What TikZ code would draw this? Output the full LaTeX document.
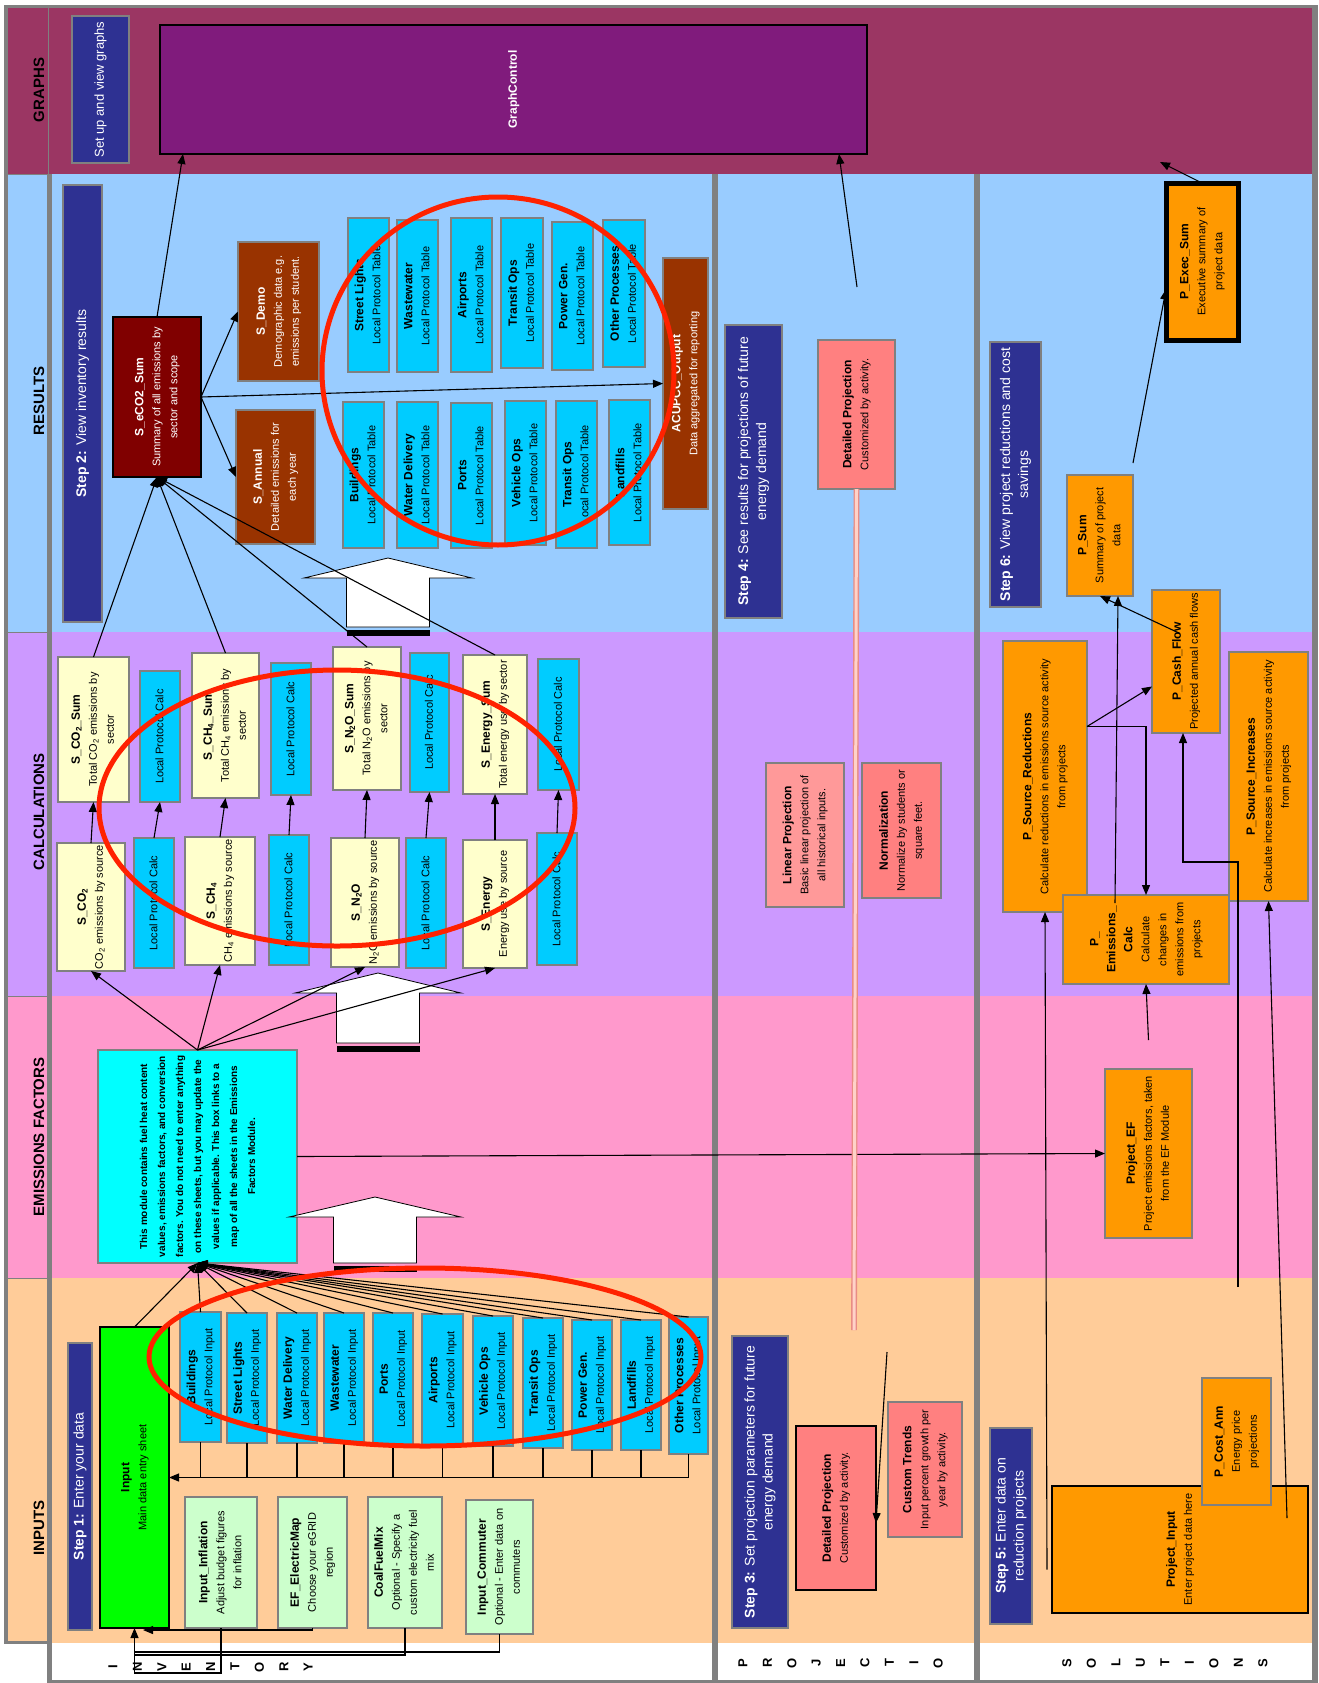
\documentclass[tikz,border=0pt]{standalone}
\usepackage{fontspec}
\setmainfont{Liberation Sans}
\usepackage{graphicx}
\usetikzlibrary{arrows.meta,calc}
\definecolor{graphband}{HTML}{9B3663}
\definecolor{graphbox}{HTML}{801B7C}
\definecolor{resband}{HTML}{99CCFF}
\definecolor{calcband}{HTML}{CC99FF}
\definecolor{efband}{HTML}{FF99CC}
\definecolor{inband}{HTML}{FFCC99}
\definecolor{stepblue}{HTML}{2E3192}
\definecolor{cyanbox}{HTML}{00CCFF}
\definecolor{efbox}{HTML}{00FFFF}
\definecolor{ybox}{HTML}{FFFFCC}
\definecolor{gbox}{HTML}{00FF00}
\definecolor{lgbox}{HTML}{CCFFCC}
\definecolor{obox}{HTML}{FF9900}
\definecolor{sbox}{HTML}{FF8080}
\definecolor{lsbox}{HTML}{FF9999}
\definecolor{bbox}{HTML}{993300}
\definecolor{mbox}{HTML}{800000}
\definecolor{gline}{HTML}{808080}
\definecolor{ring}{HTML}{FF2200}
\definecolor{pinkout}{HTML}{E88C84}
\definecolor{pinkin}{HTML}{FFD2C8}

\newcommand\rtxt[1]{\rotatebox{90}{\begin{tabular}{@{}c@{}}#1\end{tabular}}}
\newcommand\ttl[1]{{\fontsize{12}{17}\selectfont\bfseries #1}}
\newcommand\Bx[7]{%
  \pgfmathsetmacro\bxw{#5-#3}%
  \pgfmathsetmacro\bxh{#6-#4}%
  \pgfmathsetmacro\bxcx{(#3+#5)/2}%
  \pgfmathsetmacro\bxcy{(#4+#6)/2}%
  \node[#2, minimum width=\bxw pt, minimum height=\bxh pt] (#1) at (\bxcx,\bxcy) {\rtxt{#7}};%
}
\newcommand\Cy[7]{\Bx{#1}{box,fill=cyanbox}{#2}{#3}{#4}{#5}{\ttl{#6}\\Local Protocol #7}}
\newcommand\Ca[5]{\Bx{#1}{box,fill=cyanbox}{#2}{#3}{#4}{#5}{Local Protocol Calc}}
\newcommand\Barrow[6]{%
  \draw[blockarrow] (#1,#2) -- ({#1+#3},#4) -- ({#1+#5},#4) -- ({#1+#5},#6) -- ({#1-#5},#6) -- ({#1-#5},#4) -- ({#1-#3},#4) -- cycle;
  \fill[black] ({#1-#5},{#6+3}) rectangle ({#1+#5},{#6+9});}

\tikzset{
 box/.style={draw=gline, line width=1.5pt, inner sep=0pt, outer sep=0pt, font=\fontsize{11}{17}\selectfont},
 bbx/.style={box, draw=black},
 stepbox/.style={box, fill=stepblue, text=white, font=\fontsize{14}{18}\selectfont},
 arr/.style={line width=1.1pt, draw=black, -{Triangle[length=10pt,width=8pt]}},
 ln/.style={line width=1.1pt, draw=black},
 bandlabel/.style={rotate=90, font=\fontsize{15}{15}\selectfont\bfseries, inner sep=0pt},
 letter/.style={rotate=90, font=\fontsize{13}{13}\selectfont\bfseries, inner sep=0pt},
 blockarrow/.style={fill=white, draw=black, line width=0.8pt},
 ringstyle/.style={draw=ring, line width=5pt},
 pinkline/.style={draw=pinkout, double=pinkin, double distance=3pt, line width=1.4pt},
}

\begin{document}
\begin{tikzpicture}[x=1pt,y=-1pt]
\useasboundingbox (0,0) rectangle (1318,1683);
\fill[white] (0,0) rectangle (1318,1683);
% bands
\fill[graphband] (8,8) rectangle (1312,174);
\fill[resband] (8,174) rectangle (1312,632);
\fill[calcband] (8,632) rectangle (1312,996);
\fill[efband] (8,996) rectangle (1312,1278);
\fill[inband] (8,1278) rectangle (1312,1643);
% borders and separators
\fill[gline] (4,5) rectangle (1318,8);
\fill[gline] (4,5) rectangle (8,1644);
\fill[gline] (4,1641) rectangle (47,1644);
\fill[gline] (47,174) rectangle (52,1683);
\draw[gline, line width=1pt] (48.5,8) -- (48.5,174);
\fill[gline] (1312,5) rectangle (1318,1683);
\fill[gline] (52,1680) rectangle (1318,1683);
\fill[gline] (712,174) rectangle (718,1683);
\fill[gline] (974,174) rectangle (980,1683);
\foreach \yy in {174,632,996,1278} \draw[gline, line width=0.8pt] (8,\yy) -- (47,\yy);

% band labels
\node[bandlabel] (lgr) at (39,90) {GRAPHS};
\node[bandlabel] (lre) at (39,401) {RESULTS};
\node[bandlabel] (lca) at (39,812) {CALCULATIONS};
\node[bandlabel] (lef) at (39,1137) {EMISSIONS FACTORS};
\node[bandlabel] (lin) at (39,1528) {INPUTS};

% ---------- GRAPHS
\Bx{setup}{stepbox, font=\fontsize{13}{17}\selectfont}{72}{16}{129}{163}{Set up and view graphs}
\Bx{graph}{bbx, fill=graphbox, text=white}{160}{25}{867}{154}{\ttl{GraphControl}}

% ---------- RESULTS
\Bx{step2}{stepbox}{63}{185}{102}{622}{\textbf{Step 2:} View inventory results}
\Bx{seco}{bbx, fill=mbox, text=white}{113}{317}{201}{477}{\ttl{S\_eCO2\_Sum}\\Summary of all emissions by\\sector and scope}
\Bx{sdemo}{box, fill=bbox, text=white}{238}{242}{319}{381}{\ttl{S\_Demo}\\Demographic data e.g.\\emissions per student.}
\Bx{sannual}{box, fill=bbox, text=white}{236}{410}{315}{544}{\ttl{S\_Annual}\\Detailed emissions for\\each year}
\Bx{acupcc}{box, fill=bbox, text=white}{663}{258}{708}{509}{\ttl{ACUPCC\_Output}\\Data aggregated for reporting}
\Cy{rSL}{348}{218}{389}{372}{Street Lights}{Table}
\Cy{rWW}{397}{220}{438}{372}{Wastewater}{Table}
\Cy{rAP}{451}{218}{492}{372}{Airports}{Table}
\Cy{rTO}{501}{218}{543}{368}{Transit Ops}{Table}
\Cy{rPG}{552}{222}{593}{370}{Power Gen.}{Table}
\Cy{rOP}{603}{220}{645}{367}{Other Processes}{Table}
\Cy{rBD}{343}{402}{384}{548}{Buildings}{Table}
\Cy{rWD}{397}{402}{438}{548}{Water Delivery}{Table}
\Cy{rPT}{451}{403}{492}{548}{Ports}{Table}
\Cy{rVO}{505}{401}{546}{545}{Vehicle Ops}{Table}
\Cy{rTT}{556}{401}{597}{548}{Transit Ops}{Table}
\Cy{rLF}{609}{400}{650}{545}{Landfills}{Table}

% ---------- CALCULATIONS
\Bx{cCO2S}{box, fill=ybox}{58}{657}{129}{802}{\ttl{S\_CO\textsubscript{2}\_Sum}\\Total CO\textsubscript{2} emissions by\\sector}
\Ca{cal1}{140}{671}{180}{802}
\Bx{cCH4S}{box, fill=ybox}{192}{653}{259}{798}{\ttl{S\_CH\textsubscript{4}\_Sum}\\Total CH\textsubscript{4} emissions by\\sector}
\Ca{cal2}{271}{663}{311}{795}
\Bx{cN2OS}{box, fill=ybox}{333}{647}{401}{790}{\ttl{S\_N\textsubscript{2}O\_Sum}\\Total N\textsubscript{2}O emissions by\\sector}
\Ca{cal3}{410}{653}{449}{792}
\Bx{cEnS}{box, fill=ybox}{463}{655}{527}{794}{\ttl{S\_Energy\_Sum}\\Total energy use by sector}
\Ca{cal4}{538}{659}{579}{790}
\Bx{cCO2}{box, fill=ybox}{57}{843}{125}{971}{\ttl{S\_CO\textsubscript{2}}\\CO\textsubscript{2} emissions by source}
\Ca{cal5}{134}{838}{174}{968}
\Bx{cCH4}{box, fill=ybox}{185}{837}{255}{965}{\ttl{S\_CH\textsubscript{4}}\\CH\textsubscript{4} emissions by source}
\Ca{cal6}{269}{835}{309}{965}
\Bx{cN2O}{box, fill=ybox}{331}{838}{399}{967}{\ttl{S\_N\textsubscript{2}O}\\N\textsubscript{2}O emissions by source}
\Ca{cal7}{406}{838}{446}{968}
\Bx{cEn}{box, fill=ybox}{463}{840}{527}{968}{\ttl{S\_Energy}\\Energy use by source}
\Ca{cal8}{537}{833}{577}{965}

% ---------- EMISSIONS FACTORS
\Bx{ef}{box, fill=efbox, font=\fontsize{10}{18}\selectfont\bfseries}{98}{1050}{297}{1263}{This module contains fuel heat content\\values, emissions factors, and conversion\\factors. You do not need to enter anything\\on these sheets, but you may update the\\values if applicable. This box links to a\\map of all the sheets in the Emissions\\Factors Module.}
\Bx{projef}{box, fill=obox}{1105}{1069}{1192}{1238}{\ttl{Project\_EF}\\Project emissions factors, taken\\from the EF Module}

% ---------- INPUTS
\Bx{step1}{stepbox}{68}{1343}{92}{1630}{\textbf{Step 1:} Enter your data}
\Bx{input}{bbx, fill=gbox}{100}{1327}{169}{1628}{\ttl{Input}\\Main data entry sheet}
\Cy{iBD}{180}{1312}{221}{1442}{Buildings}{Input}
\Cy{iSL}{227}{1313}{267}{1443}{Street Lights}{Input}
\Cy{iWD}{277}{1313}{317}{1443}{Water Delivery}{Input}
\Cy{iWW}{324}{1313}{364}{1443}{Wastewater}{Input}
\Cy{iPT}{373}{1313}{413}{1445}{Ports}{Input}
\Cy{iAP}{422}{1314}{463}{1446}{Airports}{Input}
\Cy{iVO}{473}{1316}{513}{1446}{Vehicle Ops}{Input}
\Cy{iTO}{523}{1318}{563}{1448}{Transit Ops}{Input}
\Cy{iPG}{572}{1320}{612}{1450}{Power Gen.}{Input}
\Cy{iLF}{621}{1320}{661}{1450}{Landfills}{Input}
\Cy{iOP}{669}{1317}{708}{1454}{Other Processes}{Input}
\Bx{infl}{box, fill=lgbox}{185}{1497}{257}{1628}{\ttl{Input\_Inflation}\\Adjust budget figures\\for inflation}
\Bx{efmap}{box, fill=lgbox}{278}{1497}{347}{1628}{\ttl{EF\_ElectricMap}\\Choose your eGRID\\region}
\Bx{coal}{box, fill=lgbox}{368}{1497}{442}{1628}{\ttl{CoalFuelMix}\\Optional - Specify a\\custom electricity fuel\\mix}
\Bx{comm}{box, fill=lgbox}{466}{1500}{533}{1634}{\ttl{Input\_Commuter}\\Optional - Enter data on\\commuters}

% ---------- PROJECTIONS column
\Bx{step4}{stepbox}{725}{325}{782}{618}{\textbf{Step 4:} See results for projections of future\\energy demand}
\Bx{dp4}{box, fill=sbox}{818}{340}{895}{489}{\ttl{Detailed Projection}\\Customized by activity.}
\Bx{linproj}{box, fill=lsbox}{766}{763}{844}{907}{\ttl{Linear Projection}\\Basic linear projection of\\all historical inputs.}
\Bx{norm}{box, fill=sbox}{862}{763}{941}{898}{\ttl{Normalization}\\Normalize by students or\\square feet.}
\Bx{step3}{stepbox}{732}{1336}{788}{1628}{\textbf{Step 3:} Set projection parameters for future\\energy demand}
\Bx{dp3}{bbx, fill=sbox}{796}{1426}{876}{1590}{\ttl{Detailed Projection}\\Customized by activity.}
\Bx{ctrend}{box, fill=sbox}{888}{1402}{962}{1537}{\ttl{Custom Trends}\\Input percent growth per\\year by activity.}

% ---------- SOLUTIONS column
\Bx{step6}{stepbox}{990}{342}{1041}{607}{\textbf{Step 6:} View project reductions and cost\\savings}
\Bx{pexec}{box, fill=obox, draw=black, line width=5pt}{1166}{183}{1238}{340}{\ttl{P\_Exec\_Sum}\\Executive summary of\\project data}
\Bx{psum}{box, fill=obox}{1067}{475}{1133}{596}{\ttl{P\_Sum}\\Summary of project\\data}
\Bx{pcash}{box, fill=obox}{1152}{590}{1220}{733}{\ttl{P\_Cash\_Flow}\\Projected annual cash flows}
\Bx{psred}{box, fill=obox}{1003}{641}{1087}{912}{\ttl{P\_Source\_Reductions}\\Calculate reductions in emissions source activity\\from projects}
\Bx{psinc}{box, fill=obox}{1229}{652}{1308}{901}{\ttl{P\_Source\_Increases}\\Calculate increases in emissions source activity\\from projects}
\Bx{pemis}{box, fill=obox}{1063}{895}{1229}{984}{\ttl{P\_}\\\ttl{Emissions\_}\\\ttl{Calc}\\Calculate\\changes in\\emissions from\\projects}
\Bx{step5}{stepbox}{990}{1428}{1032}{1624}{\textbf{Step 5:} Enter data on\\reduction projects}
\Bx{pinput}{bbx, fill=obox}{1052}{1486}{1308}{1613}{\ttl{Project\_Input}\\Enter project data here}
\Bx{pcost}{box, fill=obox}{1202}{1378}{1271}{1505}{\ttl{P\_Cost\_Ann}\\Energy price\\projections}

% ---------- block arrows
\Barrow{388}{558}{84}{578}{41.5}{627}
\Barrow{378}{973}{83}{993}{41.5}{1043}
\Barrow{375}{1197}{86}{1217}{41.5}{1263}

% free ends
\coordinate (c4a) at (857,287);
\coordinate (c4b) at (854,1330);
\coordinate (c3a) at (887,1352);
\coordinate (c6a) at (1160,162);
\coordinate (c5a) at (1238,1287);

% ---------- connectors
\draw[arr] (seco.north) -- ([xshift=23pt]graph.south west);
\draw[arr] (seco.east) -- (sdemo.west);
\draw[arr] (seco.east) -- (sannual.west);
\draw[arr] (seco.east) -- (acupcc.west);
\foreach \n in {cCO2S,cCH4S,cN2OS,cEnS} \draw[arr] (\n.north) -- (seco.south);
\draw[arr] (cCO2.north) -- (cCO2S.south);
\draw[arr] (cCH4.north) -- (cCH4S.south);
\draw[arr] (cN2O.north) -- (cN2OS.south);
\draw[arr] (cEn.north) -- (cEnS.south);
\draw[arr] (cal5.north) -- (cal1.south);
\draw[arr] (cal6.north) -- (cal2.south);
\draw[arr] (cal7.north) -- (cal3.south);
\draw[arr] (cal8.north) -- (cal4.south);
\foreach \n in {cCO2,cCH4,cN2O,cEn} \draw[arr] (ef.north) -- (\n.south);
\draw[arr] (ef.east) -- (projef.west);
\foreach \n in {input,iBD,iSL,iWD,iWW,iPT,iAP,iVO,iTO,iPG,iLF,iOP} \draw[arr] (\n.north) -- (ef.south);
\foreach \n in {iBD,iSL,iWD,iWW,iPT,iAP,iVO,iTO,iPG,iLF} \draw[ln] (\n.south) -- (\n.south |- input.east);
\draw[arr] (iOP.south) |- (input.east);
\draw[arr] (infl.south) -- ++(0,45) -| (input.south);
\draw[ln] (coal.south) |- ($(input.south)+(0,27)$);
\draw[ln] (comm.south) |- ($(input.south)+(0,24)$);
\draw[arr] (efmap.south) -- ++(0,2) -- ($(input.south east)+(-26,2)$);
% projections
\draw[arr] (c4a) -- ([xshift=-28pt]graph.south east);
\draw[pinkline] (dp4.south) -- (c4b);
\draw[arr] (c3a) -- ($(dp3.east)+(0,15)$);
% solutions
\draw[arr] (pexec.north) -- (c6a);
\draw[arr] ($(psum.north east)+(0,-12)$) -- ($(pexec.west)+(0,28)$);
\draw[arr] ($(pcash.center)+(-6,-28)$) -- (psum.south);
\draw[arr] ($(pemis.north)+(-31,8)$) -- ($(psum.south)+(18,0)$);
\draw[arr] ($(psred.east)+(0,-50)$) -- ($(pcash.west)+(0,25)$);
\draw[arr] ($(psred.east)+(0,-50)$) -| (pemis.north);
\draw[arr] (c5a) |- ($(pcash.south)+(-3,129)$) -- ($(pcash.south)+(-3,0)$);
\draw[arr] ($(pinput.west)+(-5,20)$) -- (psred.south);
\draw[arr] ($(pinput.north east)+(-21,32)$) -- (psinc.south);
\draw[arr] ($(projef.north)+(0,-29)$) -- (pemis.south);

% ---------- red rings
\draw[ringstyle] (498,371) ellipse [x radius=176pt, y radius=174pt];
\draw[ringstyle] (337,808) ellipse [x radius=238pt, y radius=138pt];
\draw[ringstyle] (425,1357) ellipse [x radius=276pt, y radius=89pt];

% ---------- bottom letters
\foreach \ch [count=\ii] in {I,N,V,E,N,T,O,R,Y} \node[letter] (inv\ii) at ({113+(\ii-1)*24.4},1667) {\ch};
\foreach \ch [count=\ii] in {P,R,O,J,E,C,T,I,O} \node[letter] (prj\ii) at ({743+(\ii-1)*24.4},1663) {\ch};
\foreach \ch [count=\ii] in {S,O,L,U,T,I,O,N,S} \node[letter] (sol\ii) at ({1067+(\ii-1)*24.5},1663) {\ch};
\end{tikzpicture}
\end{document}
